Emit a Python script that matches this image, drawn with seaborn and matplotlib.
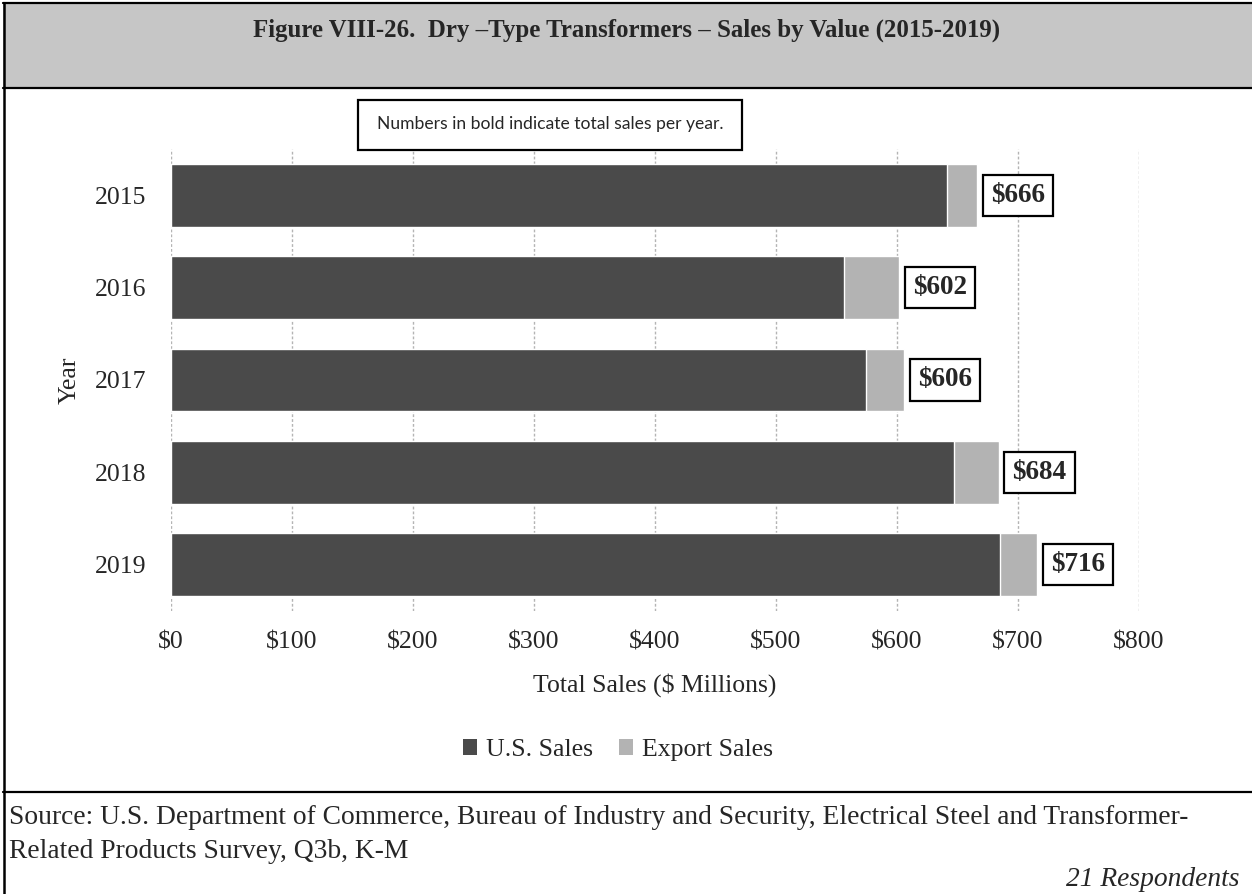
import numpy as np
import pandas as pd
import matplotlib
matplotlib.use("Agg")
import matplotlib.pyplot as plt
from matplotlib.patches import Rectangle, Patch
from matplotlib.lines import Line2D
import seaborn as sns

# Sales by value, $ millions
years = ["2015", "2016", "2017", "2018", "2019"]
us_sales = [641, 556, 574, 647, 685]
export_sales = [25, 46, 32, 37, 31]
x_ticks = [0, 100, 200, 300, 400, 500, 600, 700, 800]

total_sales = [u + e for u, e in zip(us_sales, export_sales)]
df = pd.DataFrame({"Year": years, "US": us_sales, "Export": export_sales,
                   "Total": total_sales})

sns.set_theme(style="white")
plt.rcParams["font.family"] = ["Liberation Serif", "DejaVu Serif"]

US_COLOR = "#4a4a4a"
EXPORT_COLOR = "#b3b3b3"
BAND_COLOR = "#c6c6c6"

fig = plt.figure(figsize=(12.52, 8.94), dpi=100)
W, H = 1252, 894

def fx(px):
    return px / W

def fy(py):
    return 1 - py / H

ax = fig.add_axes([fx(171), fy(611), fx(1139) - fx(171), fy(149) - fy(611)])

# stacked horizontal bars: totals underneath, U.S. portion on top
sns.barplot(data=df, x="Total", y="Year", color=EXPORT_COLOR, width=0.68,
            saturation=1, ax=ax, orient="h", zorder=3)
sns.barplot(data=df, x="US", y="Year", color=US_COLOR, width=0.68,
            saturation=1, ax=ax, orient="h", zorder=4)

ax.set_xlim(0, 800)
ax.set_ylim(4.5, -0.5)
ax.set_xticks(x_ticks)
ax.set_xticklabels([f"${v}" for v in x_ticks], fontsize=18.5)
ax.tick_params(axis="y", labelsize=18.5, length=0, pad=18)
ax.tick_params(axis="x", length=0, pad=15)
ax.set_xlabel("Total Sales ($ Millions)", fontsize=18.5, labelpad=14)
ax.set_ylabel("Year", fontsize=18.5, labelpad=10)
for s in ax.spines.values():
    s.set_visible(False)
ax.grid(False)
for v in x_ticks:
    ax.axvline(v, color="#b4b4b4", lw=1.0, ls=(0, (2, 1.5)), zorder=1)

# bold total labels in boxes
for i, t in enumerate(total_sales):
    ax.annotate(f"${t}", xy=(t, i), xytext=(10, 0), textcoords="offset points",
                ha="left", va="center", fontsize=19.5, fontweight="bold",
                bbox=dict(boxstyle="square,pad=0.3", fc="white", ec="black", lw=1.6),
                zorder=6)

# title band
fig.patches.append(Rectangle((fx(3), fy(88)), fx(1252) - fx(3), fy(3) - fy(88),
                             transform=fig.transFigure, fc=BAND_COLOR, ec="none",
                             zorder=0))
for y in (3, 88, 792):
    fig.add_artist(Line2D([fx(3), 1], [fy(y), fy(y)], color="black", lw=1.6,
                          transform=fig.transFigure))
fig.add_artist(Line2D([fx(4), fx(4)], [fy(3), fy(894)], color="black", lw=1.8,
                      transform=fig.transFigure))

fig.text(fx(627), fy(30), "Figure VIII-26.  Dry \u2013Type Transformers \u2013 Sales by Value (2015-2019)",
         ha="center", va="center", fontsize=17.9, fontweight="bold")

# note box
fig.patches.append(Rectangle((fx(358), fy(150)), fx(742) - fx(358), fy(100) - fy(150),
                             transform=fig.transFigure, fc="white", ec="black",
                             lw=1.6, zorder=5))
fig.text(fx(550), fy(124), "Numbers in bold indicate total sales per year.",
         ha="center", va="center", fontsize=12.6, family=["Lato", "DejaVu Sans"],
         zorder=6)

# legend
handles = [Patch(fc=US_COLOR, ec="none", label="U.S. Sales"),
           Patch(fc=EXPORT_COLOR, ec="none", label="Export Sales")]
fig.legend(handles=handles, loc="center", bbox_to_anchor=(fx(618), fy(750)),
           ncol=2, frameon=False, fontsize=18.5, handlelength=0.55,
           handleheight=0.55, handletextpad=0.35, columnspacing=1.0)

# source notes
fig.text(fx(9), fy(817), "Source: U.S. Department of Commerce, Bureau of Industry and Security, "
         "Electrical Steel and Transformer-", ha="left", va="center", fontsize=19.8)
fig.text(fx(9), fy(852), "Related Products Survey, Q3b, K-M", ha="left", va="center",
         fontsize=19.8)
fig.text(fx(1240), fy(880), "21 Respondents", ha="right", va="center",
         fontsize=19.8, style="italic")

fig.savefig("out.png", dpi=100)
